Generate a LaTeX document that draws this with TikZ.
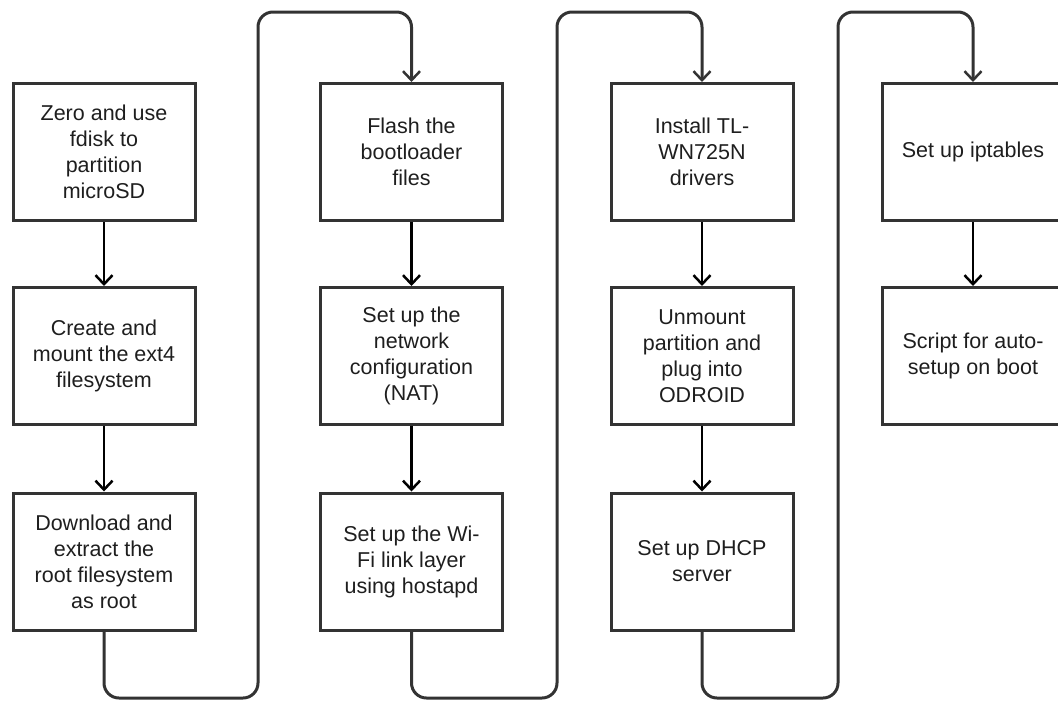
\documentclass[tikz,border=0pt]{standalone}
\usepackage{fontspec}
\setmainfont{Liberation Sans}
\usetikzlibrary{arrows.meta}
\definecolor{boxgray}{HTML}{333333}
\definecolor{txtgray}{HTML}{1E1E1E}
\tikzset{
  stepbox/.style={draw=boxgray, line width=3pt, minimum width=182pt, minimum height=137pt,
    inner sep=0pt, align=center, text=txtgray, font=\fontsize{21.5}{26}\selectfont},
  flow/.style={draw=black, line width=2.5pt, -{Straight Barb[length=9pt,width=17pt,line width=2.5pt]}},
  loopline/.style={draw=boxgray, line width=3pt, rounded corners=15pt,
    -{Straight Barb[length=9pt,width=17pt,line width=2.5pt]}}
}
\begin{document}
\begin{tikzpicture}[x=1pt,y=-1pt]
\useasboundingbox (0,0) rectangle (1058,702);
\begin{scope}
\clip (0,0) rectangle (1058,702);
% column 1
\node[stepbox] (a1) at (104,152) {Zero and use\\fdisk to\\partition\\microSD};
\node[stepbox] (a2) at (104,356) {Create and\\mount the ext4\\filesystem};
\node[stepbox] (a3) at (104,561.5) {Download and\\extract the\\root filesystem\\as root};
% column 2
\node[stepbox] (b1) at (411.5,152) {Flash the\\bootloader\\files};
\node[stepbox] (b2) at (411.5,356) {Set up the\\network\\configuration\\(NAT)};
\node[stepbox] (b3) at (411.5,561.5) {Set up the Wi-\\Fi link layer\\using hostapd};
% column 3
\node[stepbox] (c1) at (702,152) {Install TL-\\WN725N\\drivers};
\node[stepbox] (c2) at (702,356) {Unmount\\partition and\\plug into\\ODROID};
\node[stepbox] (c3) at (702,561.5) {Set up DHCP\\server};
% column 4
\node[stepbox] (d1) at (973,152) {Set up iptables};
\node[stepbox] (d2) at (973,356) {Script for auto-\\setup on boot};
\end{scope}
% straight arrows
\draw[flow] (a1) -- (a2);
\draw[flow] (a2) -- (a3);
\draw[flow] (b1) -- (b2);
\draw[flow] (b2) -- (b3);
\draw[flow] (c1) -- (c2);
\draw[flow] (c2) -- (c3);
\draw[flow] (d1) -- (d2);
% loops
\draw[loopline] (a3.south) -- (a3.south |- 0,698) -- (258,698) -- (258,12) -- (b1.north |- 0,12) -- (b1.north);
\draw[loopline] (b3.south) -- (b3.south |- 0,698) -- (557,698) -- (557,12) -- (c1.north |- 0,12) -- (c1.north);
\draw[loopline] (c3.south) -- (c3.south |- 0,698) -- (838,698) -- (838,12) -- (d1.north |- 0,12) -- (d1.north);
\end{tikzpicture}
\end{document}
